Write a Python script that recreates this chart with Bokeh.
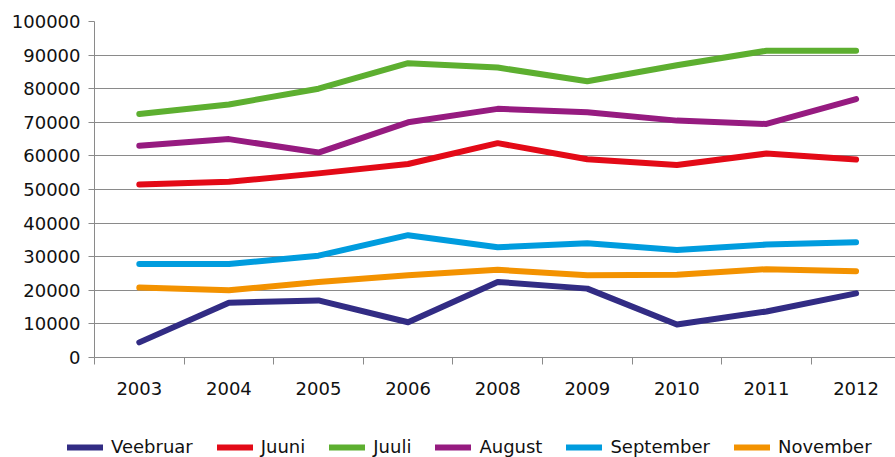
from bokeh.plotting import figure
from bokeh.layouts import column, row
from bokeh.models import Range1d, FixedTicker, NumeralTickFormatter, Legend, LegendItem
from bokeh.embed import file_html
from bokeh.resources import INLINE

years = ["2003", "2004", "2005", "2006", "2008", "2009", "2010", "2011", "2012"]
veebruar = [4500, 16300, 17000, 10500, 22500, 20500, 9800, 13700, 19100]
juuni = [51500, 52300, 54800, 57600, 63800, 59000, 57300, 60700, 58900]
juuli = [72500, 75300, 80000, 87600, 86300, 82200, 87000, 91300, 91300]
august = [63000, 65000, 61000, 70000, 74000, 73000, 70500, 69500, 76900]
september = [27800, 27800, 30300, 36400, 32800, 34000, 32000, 33600, 34300]
november = [20800, 20000, 22500, 24500, 26100, 24500, 24600, 26300, 25700]

series = [
    ("Veebruar", veebruar, "#322C84"),
    ("Juuni", juuni, "#E30A17"),
    ("Juuli", juuli, "#5DAF30"),
    ("August", august, "#961B80"),
    ("September", september, "#009CDE"),
    ("November", november, "#F39200"),
]

FONT = "DejaVu Sans"
GRID = "#8a8a8a"
TXT = "#111111"

xs = [i + 0.5 for i in range(len(years))]

p = figure(width=895, height=405, output_backend="svg", toolbar_location=None,
           x_range=Range1d(0, 8.94), y_range=Range1d(0, 100000),
           min_border_left=94, min_border_right=0, min_border_top=21, min_border_bottom=48)
p.outline_line_color = None
p.background_fill_color = "white"
p.border_fill_color = "white"

for name, vals, col in series:
    p.line(xs, vals, line_color=col, line_width=6, line_cap="round", line_join="round")

# x axis
p.xaxis.ticker = FixedTicker(ticks=xs, minor_ticks=list(range(len(years) + 1)))
p.xaxis.major_label_overrides = {x: y for x, y in zip(xs, years)}
p.xaxis.major_tick_out = 0
p.xaxis.major_tick_in = 0
p.xaxis.minor_tick_out = 7
p.xaxis.minor_tick_in = 0
p.xaxis.minor_tick_line_color = GRID
p.xaxis.axis_line_color = GRID
p.xaxis.major_label_standoff = 17
p.xaxis.major_label_text_font = FONT
p.xaxis.major_label_text_font_size = "18px"
p.xaxis.major_label_text_color = TXT
p.xgrid.grid_line_color = None

# y axis
p.yaxis.ticker = FixedTicker(ticks=list(range(0, 100001, 10000)))
p.yaxis.formatter = NumeralTickFormatter(format="0")
p.yaxis.major_tick_out = 6
p.yaxis.major_tick_in = 0
p.yaxis.minor_tick_line_color = None
p.yaxis.major_tick_line_color = GRID
p.yaxis.axis_line_color = GRID
p.yaxis.major_label_standoff = 8
p.yaxis.major_label_text_font = FONT
p.yaxis.major_label_text_font_size = "18px"
p.yaxis.major_label_text_color = TXT
p.ygrid.grid_line_color = GRID
p.ygrid.grid_line_width = 1

# legend strip (placeholder glyphs only carry the legend swatches)
lg = figure(width=895, height=52, output_backend="svg", toolbar_location=None,
            x_range=Range1d(0, 1), y_range=Range1d(0, 1),
            min_border_left=0, min_border_right=0, min_border_top=0, min_border_bottom=0)
lg.axis.visible = False
lg.grid.visible = False
lg.outline_line_color = None
items = []
for name, vals, col in series:
    r = lg.line([float("nan")], [float("nan")], line_color=col, line_width=6, line_cap="round")
    items.append(LegendItem(label=name, renderers=[r]))
legend = Legend(items=items, orientation="horizontal", location=(67, 0),
                glyph_width=36, glyph_height=20, label_height=20, label_standoff=8, spacing=24,
                padding=0, margin=0, border_line_color=None, background_fill_alpha=0,
                label_text_font=FONT, label_text_font_size="18px", label_text_color=TXT)
lg.add_layout(legend, "center")

open("out.html", "w").write(file_html(column(p, row(lg), spacing=0), INLINE))
